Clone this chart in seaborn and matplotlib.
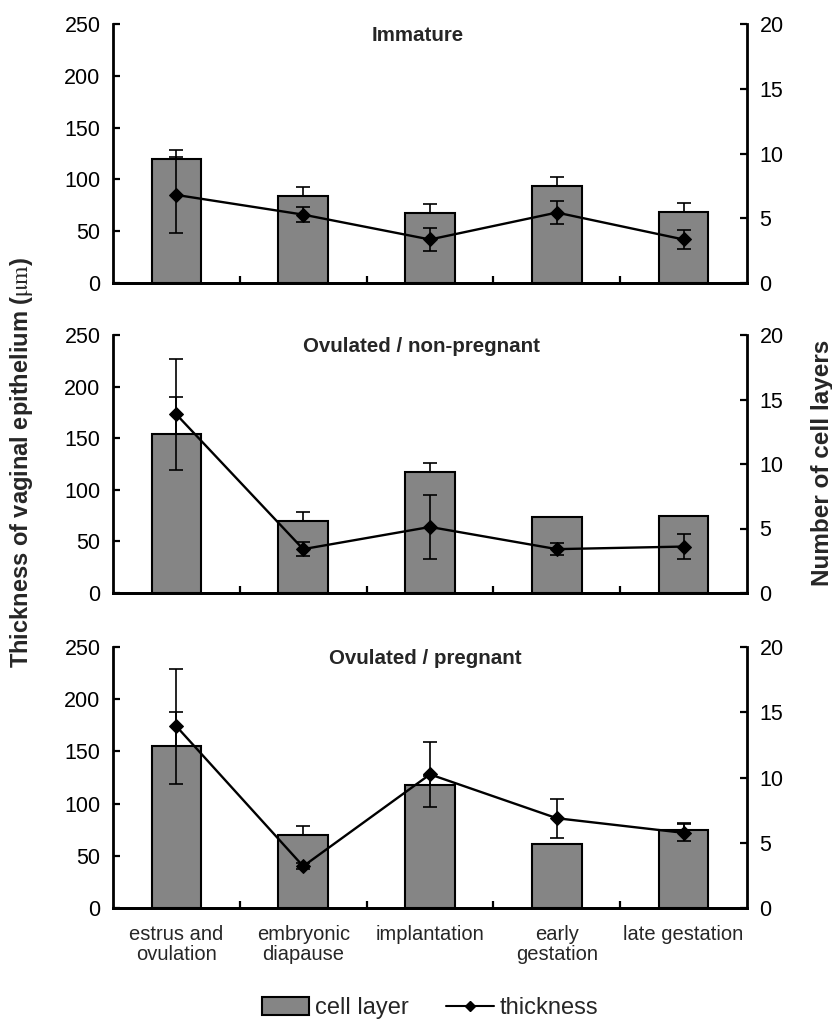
import numpy as np
import pandas as pd
import matplotlib
matplotlib.use("Agg")
import matplotlib.pyplot as plt
import seaborn as sns
from matplotlib.patches import Patch
from matplotlib.lines import Line2D

# ---------------- data ----------------
categories = ["estrus and\novulation", "embryonic\ndiapause", "implantation",
              "early\ngestation", "late gestation"]
panels = ["Immature", "Ovulated / non-pregnant", "Ovulated / pregnant"]

# cell layers (bars, right axis)
layers_immature = [9.6, 6.7, 5.4, 7.5, 5.5]
layers_immature_err = [0.7, 0.7, 0.7, 0.7, 0.7]
layers_nonpreg = [12.3, 5.6, 9.4, 5.9, 6.0]
layers_nonpreg_err = [2.9, 0.7, 0.7, 0.0, 0.0]
layers_preg = [12.4, 5.6, 9.4, 4.9, 6.0]
layers_preg_err = [2.6, 0.7, 0.7, 0.0, 0.5]

# thickness (line, left axis, µm)
thick_immature = [85, 66, 42, 68, 42]
thick_immature_err = [37, 7, 11, 11.5, 9]
thick_nonpreg = [173, 42.5, 64, 42.5, 45]
thick_nonpreg_err = [54, 7, 31, 5.7, 12.5]
thick_preg = [174, 40, 128, 86, 72]
thick_preg_err = [55, 3, 31, 18.5, 8]

layers = [layers_immature, layers_nonpreg, layers_preg]
layers_err = [layers_immature_err, layers_nonpreg_err, layers_preg_err]
thick = [thick_immature, thick_nonpreg, thick_preg]
thick_err = [thick_immature_err, thick_nonpreg_err, thick_preg_err]

# ---------------- style ----------------
sns.set_theme(style="white")
plt.rcParams["font.family"] = ["Liberation Sans", "DejaVu Sans"]
plt.rcParams["mathtext.fontset"] = "stix"

BAR_COLOR = "#858585"
TICK_FS = 15.5

fig = plt.figure(figsize=(8.32, 10.32), dpi=100)

W = 832.0
H = 1032.0
ax_left = 113 / W
ax_width = 634 / W
panel_px = [(24, 283), (335, 593), (647, 908)]
title_x = [0.481, 0.487, 0.493]

pos = np.arange(len(categories))

for i, (top, bot) in enumerate(panel_px):
    ax = fig.add_axes([ax_left, 1 - bot / H, ax_width, (bot - top) / H])
    ax2 = ax.twinx()

    df = pd.DataFrame({"cat": categories, "layers": layers[i],
                       "thick": thick[i], "pos": pos})

    # bars (cell layers) on right axis
    sns.barplot(data=df, x="cat", y="layers", ax=ax2, color=BAR_COLOR,
                width=0.39, edgecolor="black", linewidth=1.5, saturation=1,
                errorbar=None)
    le = np.array(layers_err[i])
    lv = np.array(layers[i])
    m = le > 0
    ax2.errorbar(pos[m], lv[m], yerr=[np.zeros(m.sum()), le[m]], fmt="none",
                 ecolor="black", elinewidth=1.2, capsize=5, capthick=1.2)

    # line (thickness) on left axis
    ax.set_zorder(ax2.get_zorder() + 1)
    ax.patch.set_visible(False)
    sns.lineplot(data=df, x="pos", y="thick", ax=ax, color="black",
                 marker="D", markersize=7, linewidth=1.7,
                 markeredgecolor="black")
    ax.errorbar(pos, thick[i], yerr=thick_err[i], fmt="none", ecolor="black",
                elinewidth=1.2, capsize=5, capthick=1.2)

    ax.set_ylim(0, 250)
    ax2.set_ylim(0, 20)
    ax.set_xlim(-0.5, 4.5)
    ax2.set_xlim(-0.5, 4.5)
    ax.set_yticks([0, 50, 100, 150, 200, 250])
    ax2.set_yticks([0, 5, 10, 15, 20])
    ax.set_ylabel("")
    ax2.set_ylabel("")
    ax.set_xlabel("")
    ax2.set_xlabel("")

    for a in (ax, ax2):
        a.spines["top"].set_visible(False)
        for s in ("left", "right", "bottom"):
            a.spines[s].set_linewidth(2)
            a.spines[s].set_color("black")
    ax.spines["right"].set_visible(False)
    ax2.spines["left"].set_visible(False)

    ax.tick_params(axis="y", direction="in", length=5, width=1.6,
                   labelsize=TICK_FS, pad=9, left=True, colors="black")
    ax2.tick_params(axis="y", direction="in", length=5, width=1.6,
                    labelsize=TICK_FS, pad=9, right=True, colors="black")
    ax2.tick_params(axis="x", bottom=False, labelbottom=False)

    ax.set_xticks(pos)
    ax.set_xticks([0.5, 1.5, 2.5, 3.5], minor=True)
    ax.tick_params(axis="x", which="major", length=0, pad=12,
                   labelsize=14.5)
    ax.tick_params(axis="x", which="minor", direction="in", length=5,
                   width=1.6, bottom=True, colors="black")
    if i == 2:
        ax.set_xticklabels(categories, linespacing=1.1)
    else:
        ax.set_xticklabels([])

    ax.text(title_x[i], 0.955, panels[i], transform=ax.transAxes,
            ha="center", va="center", fontweight="bold", fontsize=14.8)

fig.text(22 / W, 1 - 462 / H,
         r"Thickness of vaginal epithelium ($\mathrm{\mu m}$)",
         rotation=90, ha="center", va="center", fontweight="bold",
         fontsize=17)
fig.text(822 / W, 1 - 463 / H, "Number of cell layers", rotation=90,
         ha="center", va="center", fontweight="bold", fontsize=17.5)

handles = [Patch(facecolor=BAR_COLOR, edgecolor="black", linewidth=1.5),
           Line2D([0], [0], color="black", marker="D", markersize=5,
                  linewidth=1.5)]
fig.legend(handles, ["cell layer", "thickness"], loc="center",
           bbox_to_anchor=(430 / W, 1 - 1008 / H), ncol=2, frameon=False,
           fontsize=17, handlelength=2.0, handleheight=0.8,
           handletextpad=0.25, columnspacing=1.6)

fig.savefig("out.png", dpi=100)
